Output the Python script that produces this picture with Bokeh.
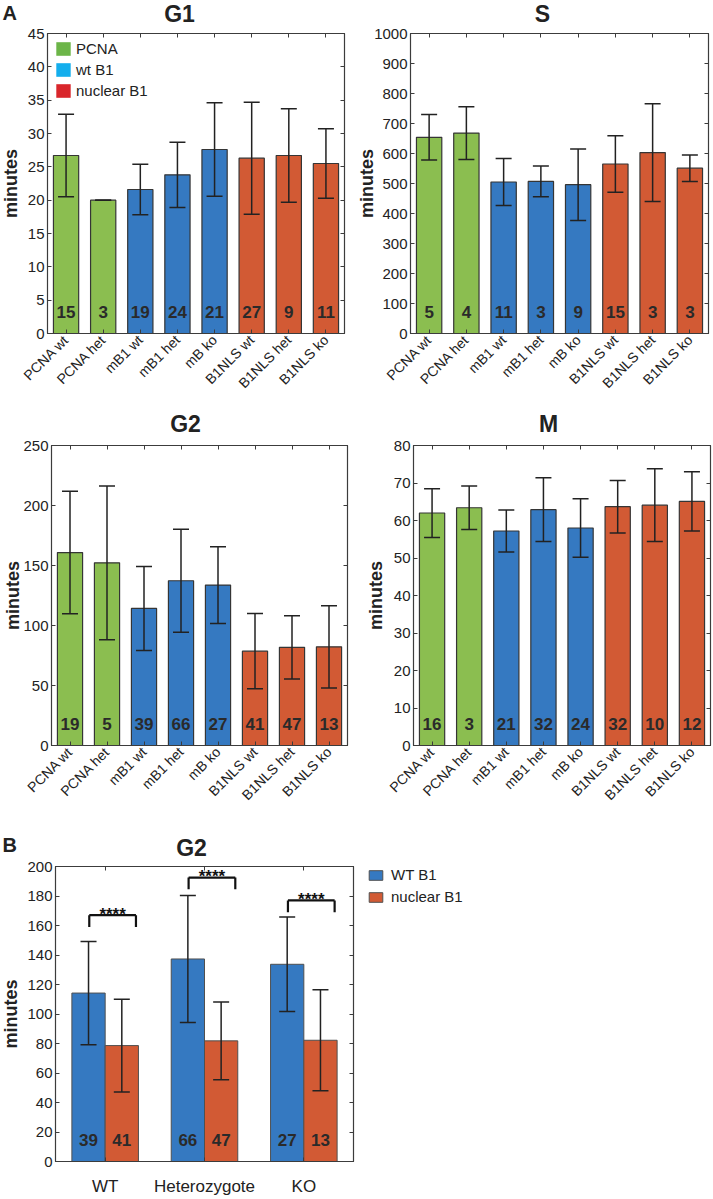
import math
from bokeh.plotting import figure
from bokeh.models import (ColumnDataSource, Whisker, TeeHead, Label, LinearAxis,
                          SingleIntervalTicker, FixedTicker, Range1d, FactorRange,
                          Legend, LegendItem, CustomJSTickFormatter)
from bokeh.layouts import column, row
from bokeh.transform import dodge
from bokeh.core.properties import value
from bokeh.embed import file_html
from bokeh.resources import INLINE

# ---------------- data ----------------
categories = ["PCNA wt", "PCNA het", "mB1 wt", "mB1 het", "mB ko",
              "B1NLS wt", "B1NLS het", "B1NLS ko"]

g1_mean = [26.7, 20.0, 21.6, 23.8, 27.6, 26.3, 26.7, 25.5]
g1_sd = [6.2, 0.0, 3.8, 4.9, 7.0, 8.4, 7.0, 5.2]
g1_n = [15, 3, 19, 24, 21, 27, 9, 11]

s_mean = [654, 668, 505, 507, 496, 565, 603, 551]
s_sd = [76, 88, 78, 51, 119, 94, 163, 44]
s_n = [5, 4, 11, 3, 9, 15, 3, 3]

g2_mean = [160.8, 152.2, 114.2, 137.3, 133.7, 78.6, 81.8, 82.2]
g2_sd = [51, 64, 35, 43, 32, 31.4, 26.4, 34.2]
g2_n = [19, 5, 39, 66, 27, 41, 47, 13]

m_mean = [62.0, 63.4, 57.2, 62.9, 58.0, 63.7, 64.1, 65.1]
m_sd = [6.5, 5.8, 5.6, 8.5, 7.8, 7.0, 9.7, 7.9]
m_n = [16, 3, 21, 32, 24, 32, 10, 12]

legend_a_labels = ["PCNA", "wt B1", "nuclear B1"]

b_groups = ["WT", "Heterozygote", "KO"]
b_wt_mean = [114.2, 137.3, 133.7]
b_wt_sd = [35, 43, 32]
b_wt_n = [39, 66, 27]
b_nuc_mean = [78.6, 81.8, 82.2]
b_nuc_sd = [31.4, 26.4, 34.2]
b_nuc_n = [41, 47, 13]
b_sig_y = [167, 192.5, 177]
b_sig_text = ["****", "****", "****"]
legend_b_labels = ["WT B1", "nuclear B1"]

# ---------------- style ----------------
FONT = "Liberation Sans"
GREEN = "#8bbe50"
BLUE = "#3579c1"
RED = "#d25a34"
bar_colors = [GREEN, GREEN, BLUE, BLUE, BLUE, RED, RED, RED]
legend_a_colors = ["#6cb548", "#14aeed", "#d9262b"]
legend_b_colors = [BLUE, RED]
AXC = "#3c3c3c"
TXT = "#222222"
EBC = "#222222"


def blank():
    return CustomJSTickFormatter(code="return ''")


def style_axes(p, step, minor, xfont, xorient, xstandoff, ncat):
    p.xgrid.visible = False
    p.ygrid.visible = False
    p.outline_line_color = AXC
    p.outline_line_width = 1.2
    p.outline_line_alpha = 1.0
    p.border_fill_alpha = 0.0
    y = p.yaxis[0]
    y.ticker = SingleIntervalTicker(interval=step, num_minor_ticks=minor)
    y.major_tick_in = 4
    y.major_tick_out = 0
    y.minor_tick_in = 2
    y.minor_tick_out = 0
    y.major_label_standoff = 3
    y.major_label_text_font = FONT
    y.major_label_text_font_size = "15px"
    y.major_label_text_color = TXT
    y.axis_line_color = AXC
    y.major_tick_line_color = AXC
    y.minor_tick_line_color = AXC
    x = p.xaxis[0]
    x.major_tick_in = 4
    x.major_tick_out = 0
    x.major_label_orientation = xorient
    x.major_label_standoff = xstandoff
    x.major_label_text_font = FONT
    x.major_label_text_font_size = xfont
    x.major_label_text_color = TXT
    x.axis_line_color = AXC
    x.major_tick_line_color = AXC
    # mirrored tick marks (no labels) on the right and top
    p.add_layout(LinearAxis(ticker=SingleIntervalTicker(interval=step, num_minor_ticks=minor),
                            formatter=blank(), major_tick_in=4, major_tick_out=0,
                            minor_tick_in=2, minor_tick_out=0, major_label_standoff=0,
                            axis_line_color=AXC, major_tick_line_color=AXC,
                            minor_tick_line_color=AXC), "right")
    p.add_layout(LinearAxis(ticker=FixedTicker(ticks=[i + 0.5 for i in range(ncat)],
                                               minor_ticks=[]),
                            formatter=blank(), major_tick_in=4, major_tick_out=0,
                            minor_tick_in=0, minor_tick_out=0, major_label_standoff=0,
                            axis_line_color=AXC, major_tick_line_color=AXC), "above")


def add_texts(p, ymax, title, title_dx, title_dy, ylab_dx, letter=None, letter_dx=0, letter_dy=0):
    p.add_layout(Label(x=0, y=ymax, x_offset=title_dx, y_offset=title_dy, text=title,
                       text_font=FONT, text_font_style="bold", text_font_size="23px",
                       text_color=TXT, text_align="center", text_baseline="middle"), "above")
    p.add_layout(Label(x=0, y=ymax / 2, x_offset=ylab_dx, y_offset=0, text="minutes",
                       angle=math.pi / 2, text_font=FONT, text_font_style="bold",
                       text_font_size="18px", text_color=TXT, text_align="center",
                       text_baseline="middle"), "left")
    if letter:
        p.add_layout(Label(x=0, y=ymax, x_offset=letter_dx, y_offset=letter_dy, text=letter,
                           text_font=FONT, text_font_style="bold", text_font_size="20px",
                           text_color=TXT, text_align="left", text_baseline="middle"), "above")


def panel(title, means, sds, ns, ymax, step, minor, width, height, bl, br, bt, bb, margin,
          title_dx, title_dy, ylab_dx, letter=None, letter_dx=0, letter_dy=0, legend=False):
    src = ColumnDataSource(dict(
        cat=categories, mean=means,
        lower=[m - s for m, s in zip(means, sds)],
        upper=[m + s for m, s in zip(means, sds)],
        n=[str(v) for v in ns], color=bar_colors))
    p = figure(x_range=FactorRange(factors=categories), y_range=Range1d(0, ymax),
               width=width, height=height, output_backend="svg", toolbar_location=None,
               min_border_left=bl, min_border_right=br, min_border_top=bt, min_border_bottom=bb,
               margin=margin)
    style_axes(p, step, minor, "14px", math.pi / 4, 4, len(categories))
    p.vbar(x="cat", top="mean", bottom=0, width=0.68, source=src,
           fill_color="color", line_color="#353535", line_width=1.2)
    w = Whisker(source=src, base="cat", upper="upper", lower="lower",
                line_color=EBC, line_width=1.5, level="annotation",
                upper_head=TeeHead(size=16, line_color=EBC, line_width=1.5),
                lower_head=TeeHead(size=16, line_color=EBC, line_width=1.5))
    p.add_layout(w)
    p.text(x="cat", y=0, text="n", source=src, text_font=value(FONT),
           text_font_style="bold", text_font_size="17px", text_color="#2a2a2a",
           text_align="center", text_baseline="middle", y_offset=-22)
    add_texts(p, ymax, title, title_dx, title_dy, ylab_dx, letter, letter_dx, letter_dy)
    if legend:
        items = []
        for lab, c in zip(legend_a_labels, legend_a_colors):
            # zero-height proxy bar: only used to draw the legend swatch
            r = p.vbar(x=[categories[0]], top=[0], bottom=[0], width=0.01,
                       fill_color=c, line_color=None)
            items.append(LegendItem(label=lab, renderers=[r]))
        lg = Legend(items=items, location="top_left", orientation="vertical",
                    glyph_width=18, glyph_height=17, label_height=17, spacing=4,
                    padding=0, margin=7, label_standoff=4,
                    label_text_font=FONT, label_text_font_size="15px",
                    label_text_color=TXT, border_line_alpha=0, background_fill_alpha=0)
        p.add_layout(lg)
    return p


# row 1: canvases start 17px above the page top (only empty border is hidden)
g1 = panel("G1", g1_mean, g1_sd, g1_n, 45, 5, 0, 355, 427, 47, 11, 50, 77, (-17, 0, 0, 0),
           132, 20, -37, letter="A", letter_dx=-45, letter_dy=21, legend=True)
s = panel("S", s_mean, s_sd, s_n, 1000, 100, 0, 361, 427, 57, 4, 50, 77, (-17, 0, 0, -4),
          132, 20, -44)
g2 = panel("G2", g2_mean, g2_sd, g2_n, 250, 50, 1, 360, 420, 49, 13, 35, 85, (0, 0, 0, 0),
           134, 22, -39)
mm = panel("M", m_mean, m_sd, m_n, 80, 10, 1, 352, 420, 53, 2, 35, 85, (0, 0, 0, 0),
           135, 22, -38)

# ---------------- panel B ----------------
BW = 0.335
pb = figure(x_range=FactorRange(factors=b_groups), y_range=Range1d(0, 200),
            width=369, height=384, output_backend="svg", toolbar_location=None,
            min_border_left=55, min_border_right=16, min_border_top=50, min_border_bottom=35,
            margin=(-16, 0, 0, 0))
style_axes(pb, 20, 1, "17px", "horizontal", 15, len(b_groups))

src_w = ColumnDataSource(dict(grp=b_groups, mean=b_wt_mean,
                              lower=[m - s_ for m, s_ in zip(b_wt_mean, b_wt_sd)],
                              upper=[m + s_ for m, s_ in zip(b_wt_mean, b_wt_sd)],
                              n=[str(v) for v in b_wt_n]))
src_n = ColumnDataSource(dict(grp=b_groups, mean=b_nuc_mean,
                              lower=[m - s_ for m, s_ in zip(b_nuc_mean, b_nuc_sd)],
                              upper=[m + s_ for m, s_ in zip(b_nuc_mean, b_nuc_sd)],
                              n=[str(v) for v in b_nuc_n]))
for src_, off, col in [(src_w, -BW / 2, BLUE), (src_n, BW / 2, RED)]:
    xd = dodge("grp", off, range=pb.x_range)
    pb.vbar(x=xd, top="mean", bottom=0, width=BW, source=src_,
            fill_color=col, line_color="#505050", line_width=1.0)
    pb.add_layout(Whisker(source=src_, base=dodge("grp", off, range=pb.x_range),
                          upper="upper", lower="lower", line_color=EBC, line_width=1.5,
                          level="annotation",
                          upper_head=TeeHead(size=16, line_color=EBC, line_width=1.5),
                          lower_head=TeeHead(size=16, line_color=EBC, line_width=1.5)))
    pb.text(x=dodge("grp", off, range=pb.x_range), y=0, text="n", source=src_,
            text_font=value(FONT), text_font_style="bold", text_font_size="17px",
            text_color="#2a2a2a", text_align="center", text_baseline="middle", y_offset=-22)

sig_src = ColumnDataSource(dict(grp=b_groups, y=b_sig_y,
                                leg=[v - 8 for v in b_sig_y], t=b_sig_text))
pb.segment(x0=dodge("grp", -0.16, range=pb.x_range), y0="y",
           x1=dodge("grp", 0.31, range=pb.x_range), y1="y", source=sig_src,
           line_color="#111111", line_width=2.2)
pb.segment(x0=dodge("grp", -0.16, range=pb.x_range), y0="y",
           x1=dodge("grp", -0.16, range=pb.x_range), y1="leg", source=sig_src,
           line_color="#111111", line_width=2.2)
pb.segment(x0=dodge("grp", 0.31, range=pb.x_range), y0="y",
           x1=dodge("grp", 0.31, range=pb.x_range), y1="leg", source=sig_src,
           line_color="#111111", line_width=2.2)
pb.text(x=dodge("grp", 0.075, range=pb.x_range), y="y", text="t", source=sig_src,
        text_font=value(FONT), text_font_style="bold", text_font_size="17px",
        text_color="#111111", text_align="center", text_baseline="alphabetic", y_offset=-1)

add_texts(pb, 200, "G2", 136, 19, -45, letter="B", letter_dx=-53, letter_dy=22)

# legend of panel B lives in a small companion plot to the right
pl = figure(width=200, height=384, x_range=Range1d(0, 1), y_range=Range1d(0, 1),
            x_axis_type=None, y_axis_type=None, output_backend="svg", toolbar_location=None,
            min_border_left=0, min_border_right=0, min_border_top=52, min_border_bottom=35,
            margin=(-16, 0, 0, -2))
pl.grid.visible = False
pl.outline_line_color = None
pl.border_fill_alpha = 0.0
pl.background_fill_alpha = 0.0
items_b = []
for lab, c in zip(legend_b_labels, legend_b_colors):
    r = pl.vbar(x=[0], top=[0], bottom=[0], width=0, fill_color=c,
                line_color="#505050", line_width=1.0)
    items_b.append(LegendItem(label=lab, renderers=[r]))
pl.add_layout(Legend(items=items_b, location="top_left", orientation="vertical",
                     glyph_width=17, glyph_height=12, label_height=12, spacing=5,
                     padding=0, margin=0, label_standoff=7,
                     label_text_font=FONT, label_text_font_size="15px", label_text_color=TXT,
                     border_line_alpha=0, background_fill_alpha=0))

layout = column(row(g1, s), row(g2, mm), row(pb, pl))
open("out.html", "w").write(file_html(layout, INLINE))
